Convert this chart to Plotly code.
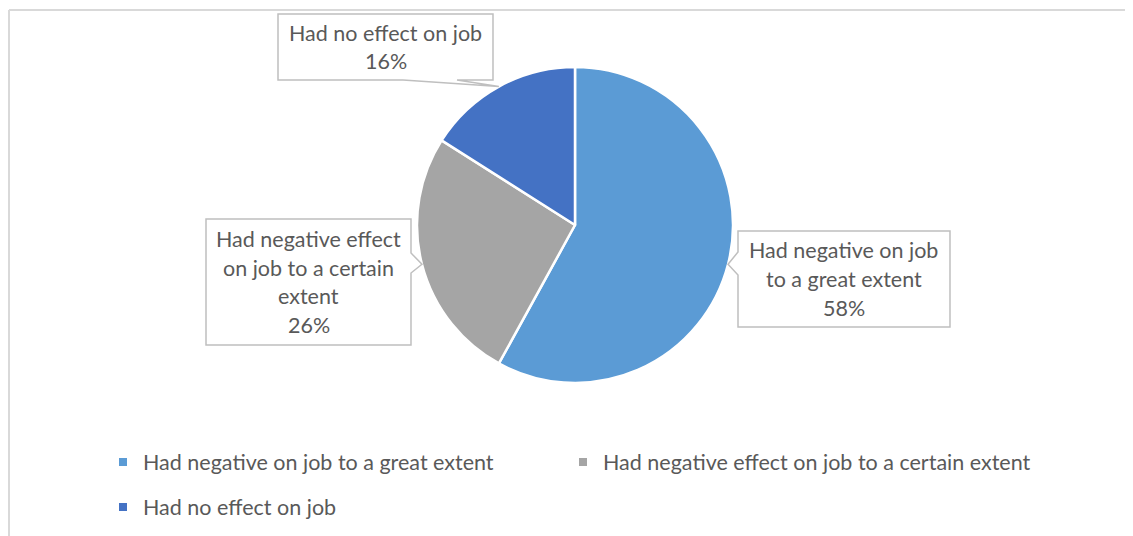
import math
import plotly.graph_objects as go

W, H = 1133, 536

labels = ["Had negative on job to a great extent",
          "Had negative effect on job to a certain extent",
          "Had no effect on job"]
values = [58, 26, 16]
colors = ["#5B9BD5", "#A5A5A5", "#4472C4"]

# text shown inside each callout box, one entry per line
callout_lines = [["Had negative on job", "to a great extent", "58%"],
                 ["Had negative effect", "on job to a certain", "extent", "26%"],
                 ["Had no effect on job", "16%"]]

# each legend entry gets its own legend box so it can sit where the original has it
legend_names = ["legend", "legend2", "legend3"]

TEXT = "#595959"
FONT = "Lato"
FS = 21.5

# the page body adds an 8px margin: shrink the figure to fit the window
# and shift all screen positions back by that margin
OFF = 8
FW, FH = W - OFF, H - OFF

# pie placement in pixels (as seen in the screenshot)
cx, cy, r = 575, 225, 158

def px(x):
    return (x - OFF) / FW

def py(y):
    return 1 - (y - OFF) / FH

fig = go.Figure()

fig.add_trace(go.Pie(labels=labels, values=values, sort=False, direction="clockwise",
                     rotation=0, textinfo="none", hoverinfo="label+percent", showlegend=False,
                     marker=dict(colors=colors, line=dict(color="white", width=2.5)),
                     domain=dict(x=[px(cx - r), px(cx + r)], y=[py(cy + r), py(cy - r)])))

# legend entries as empty square-marker traces
for label, color, leg in zip(labels, colors, legend_names):
    fig.add_trace(go.Scatter(x=[None], y=[None], mode="markers", name=label, legend=leg,
                             marker=dict(symbol="square", size=8, color=color), hoverinfo="skip"))

# callout boxes: left, top, right, bottom in pixels, and which side carries the pointer
boxes = [dict(box=(738, 231, 950, 327), side="left", base=(252, 275)),
         dict(box=(206, 219, 411, 345), side="right", base=(253, 273)),
         dict(box=(278, 14, 493, 80), side="bottom", base=(403, 457))]

total = sum(values)
cum = 0
for i, v in enumerate(values):
    # pointer tip sits on the pie edge at the middle of the slice
    mid = (cum + v / 2) / total * 2 * math.pi
    cum += v
    tx = cx + r * math.sin(mid)
    ty = cy - r * math.cos(mid)

    x0, y0, x1, y1 = boxes[i]["box"]
    b0, b1 = boxes[i]["base"]
    side = boxes[i]["side"]
    if side == "left":
        pts = [(x0, y0), (x1, y0), (x1, y1), (x0, y1), (x0, b1), (tx, ty), (x0, b0)]
    elif side == "right":
        pts = [(x0, y0), (x1, y0), (x1, b0), (tx, ty), (x1, b1), (x1, y1), (x0, y1)]
    else:
        pts = [(x0, y0), (x1, y0), (x1, y1), (b1, y1), (tx, ty), (b0, y1), (x0, y1)]
    path = "M " + " L ".join(f"{px(a):.5f},{py(b):.5f}" for a, b in pts) + " Z"
    fig.add_shape(type="path", path=path, xref="paper", yref="paper",
                  line=dict(color="#BFBFBF", width=1.5), fillcolor="white", layer="above")

    # one annotation per text line so the line spacing matches
    lines = callout_lines[i]
    step = 28.7
    mid_y = (y0 + y1) / 2
    for k, line in enumerate(lines):
        ly = mid_y + (k - (len(lines) - 1) / 2) * step
        fig.add_annotation(x=px((x0 + x1) / 2), y=py(ly), xref="paper", yref="paper",
                           text=line, showarrow=False, xanchor="center", yanchor="middle",
                           font=dict(family=FONT, size=FS, color=TEXT))

# outer chart border: only the top and left edges are inside the picture
border = dict(color="#D9D9D9", width=2)
fig.add_shape(type="line", xref="paper", yref="paper",
              x0=px(9), y0=py(10), x1=1, y1=py(10), line=border)
fig.add_shape(type="line", xref="paper", yref="paper",
              x0=px(9), y0=py(10), x1=px(9), y1=0, line=border)

legend_style = dict(orientation="h", xanchor="left", yanchor="middle",
                    font=dict(family=FONT, size=FS, color=TEXT),
                    bgcolor="rgba(0,0,0,0)", itemclick=False, itemdoubleclick=False)

fig.update_layout(width=FW, height=FH, margin=dict(l=0, r=0, t=0, b=0),
                  paper_bgcolor="white", plot_bgcolor="white",
                  font=dict(family=FONT, size=FS, color=TEXT),
                  showlegend=True,
                  xaxis=dict(visible=False), yaxis=dict(visible=False),
                  legend=dict(x=px(103), y=py(462), **legend_style),
                  legend2=dict(x=px(563), y=py(462), **legend_style),
                  legend3=dict(x=px(103), y=py(507), **legend_style))

fig.write_html("out.html")
